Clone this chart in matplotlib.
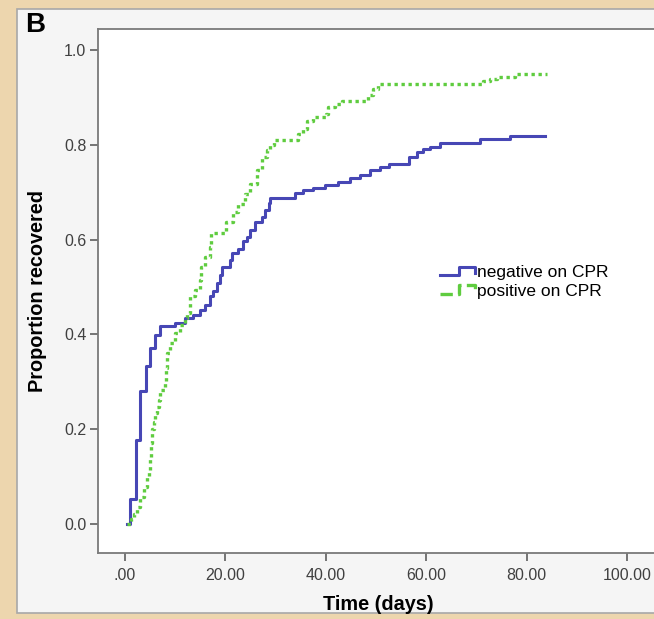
import matplotlib
matplotlib.use("Agg")
import matplotlib.pyplot as plt
from matplotlib.lines import Line2D
from matplotlib.legend_handler import HandlerBase
from matplotlib.patches import Rectangle

plt.rcParams['font.family'] = ['Liberation Sans', 'DejaVu Sans']

# step points (time in days, cumulative proportion recovered)
neg_days = [0.4, 1.0, 2.1, 3.0, 4.1, 4.9, 5.9, 6.9, 10.0, 12.0, 13.6, 15.0, 16.0,
            16.9, 17.6, 18.3, 18.9, 19.3, 20.9, 21.3, 22.5, 23.5, 24.3, 24.9, 25.9,
            27.2, 27.9, 28.6, 28.9, 33.8, 35.5, 37.5, 39.9, 42.5, 44.8, 46.8, 48.8,
            50.8, 52.6, 56.5, 58.1, 59.4, 60.7, 62.8, 70.7, 76.7, 83.6]
neg_prop = [0.0, 0.053, 0.177, 0.281, 0.334, 0.371, 0.399, 0.418, 0.425, 0.435,
            0.440, 0.451, 0.462, 0.480, 0.492, 0.508, 0.525, 0.543, 0.557, 0.572,
            0.580, 0.596, 0.606, 0.620, 0.638, 0.648, 0.662, 0.677, 0.687, 0.698,
            0.705, 0.708, 0.715, 0.722, 0.729, 0.736, 0.747, 0.754, 0.760, 0.775,
            0.785, 0.790, 0.796, 0.803, 0.812, 0.819, 0.819]

pos_days = [0.4, 1.2, 1.7, 2.3, 3.0, 3.7, 4.3, 4.7, 5.0, 5.2, 5.4, 5.7, 5.9, 6.3,
            6.7, 6.9, 8.0, 8.2, 8.4, 9.0, 10.0, 11.0, 12.0, 12.3, 13.0, 14.0, 15.0,
            15.2, 16.0, 16.9, 17.1, 20.1, 21.5, 22.5, 23.9, 24.9, 26.2, 27.2, 28.2,
            28.9, 29.6, 34.5, 35.5, 36.2, 37.5, 40.1, 40.5, 41.9, 43.2, 48.4, 49.4,
            50.4, 71.4, 72.7, 74.1, 77.7, 84.0]
pos_prop = [0.0, 0.010, 0.022, 0.036, 0.058, 0.079, 0.100, 0.114, 0.140, 0.170,
            0.200, 0.216, 0.234, 0.247, 0.261, 0.282, 0.297, 0.330, 0.360, 0.381,
            0.402, 0.419, 0.434, 0.445, 0.480, 0.493, 0.514, 0.542, 0.563, 0.584,
            0.613, 0.637, 0.658, 0.676, 0.697, 0.718, 0.746, 0.774, 0.788, 0.799,
            0.809, 0.823, 0.834, 0.851, 0.858, 0.865, 0.879, 0.886, 0.893, 0.904,
            0.918, 0.927, 0.934, 0.939, 0.943, 0.950, 0.950]

x_ticks = [0, 20, 40, 60, 80, 100]
x_labels = ['.00', '20.00', '40.00', '60.00', '80.00', '100.00']
y_ticks = [0.0, 0.2, 0.4, 0.6, 0.8, 1.0]
y_labels = ['0.0', '0.2', '0.4', '0.6', '0.8', '1.0']

blue = '#4747b5'
green = '#5fcc3f'


class StepHandler(HandlerBase):
    # SPSS-style little step in the legend
    def create_artists(self, legend, orig_handle, xdescent, ydescent,
                       width, height, fontsize, trans):
        xs = [0, 0.55, 0.55, 1.0, 1.0]
        ys = [0.15, 0.15, 0.85, 0.85, 0.35]
        line = Line2D([x * width - xdescent for x in xs],
                      [y * height - ydescent for y in ys],
                      color=orig_handle.get_color(),
                      lw=orig_handle.get_linewidth(),
                      ls=orig_handle.get_linestyle())
        line.set_transform(trans)
        return [line]


W, H = 654, 619
fig = plt.figure(figsize=(W / 100, H / 100), dpi=100, facecolor='#edd6ae')
fig.patches.append(Rectangle((17 / W, 1 - 613 / H), 1.0, (613 - 9) / H,
                             transform=fig.transFigure, facecolor='#f5f5f5',
                             edgecolor='#a8a8a8', lw=1.2, zorder=-10))

ax_l, ax_r, ax_t, ax_b = 97.5, 660, 29, 553
ax = fig.add_axes([ax_l / W, 1 - ax_b / H, (ax_r - ax_l) / W, (ax_b - ax_t) / H])
ax.set_facecolor('white')

l1, = ax.step(neg_days, neg_prop, where='post', color=blue, lw=2.2,
              label='negative on CPR')
l2, = ax.step(pos_days, pos_prop, where='post', color=green, lw=2.4,
              ls=(0, (1, 1.1)), label='positive on CPR')

ax.set_xlim(-5.5, 106.6)
ax.set_ylim(-0.061, 1.044)
ax.set_xticks(x_ticks)
ax.set_xticklabels(x_labels)
ax.set_yticks(y_ticks)
ax.set_yticklabels(y_labels)

for s in ax.spines.values():
    s.set_color('#7a7a7a')
    s.set_linewidth(1.3)
ax.spines['right'].set_visible(False)
ax.tick_params(direction='out', length=6, width=1.3, color='#6a6a6a',
               labelsize=11.5, labelcolor='#404040')
ax.tick_params(axis='x', pad=5)
ax.tick_params(axis='y', pad=2)

ax.set_xlabel('Time (days)', fontsize=14.3, fontweight='bold')
ax.xaxis.set_label_coords(0.5, -(604 - ax_b) / (ax_b - ax_t))
ax.xaxis.label.set_va('center')
ax.set_ylabel('Proportion recovered', fontsize=14.3, fontweight='bold')
ax.yaxis.set_label_coords(-(ax_l - 37.5) / (ax_r - ax_l), 0.5)
ax.yaxis.label.set_va('center')

ax.legend(handles=[l1, l2], handler_map={Line2D: StepHandler()},
          loc='upper left',
          bbox_to_anchor=((440 - ax_l) / (ax_r - ax_l), 1 - (265 - ax_t) / (ax_b - ax_t)),
          frameon=False, fontsize=12.5, handlelength=2.0, handletextpad=0.15,
          labelspacing=0.2, borderpad=0, borderaxespad=0)

fig.text(25 / W, 1 - 25 / H, 'B', fontsize=20, fontweight='bold',
         va='center', ha='left')

fig.savefig('out.png', dpi=100, facecolor=fig.get_facecolor())
